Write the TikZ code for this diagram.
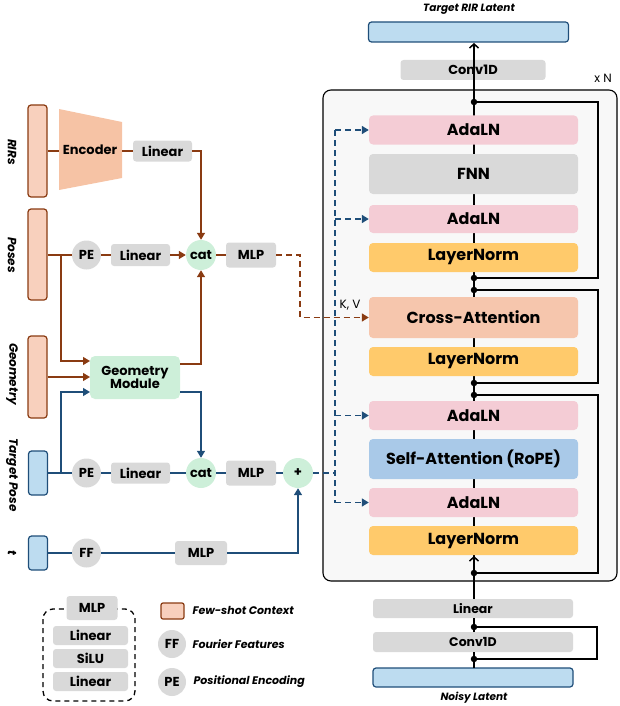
\documentclass[tikz,border=0pt]{standalone}
\usepackage{fontspec}
\setmainfont{Poppins}
\usetikzlibrary{arrows.meta,calc}

\definecolor{brn}{HTML}{8A3B12}
\definecolor{dblue}{HTML}{1F4E79}
\definecolor{peachbar}{HTML}{F8D0BD}
\definecolor{encfill}{HTML}{F6C3A5}
\definecolor{grayc}{HTML}{D9D9D9}
\definecolor{greenc}{HTML}{CDEFD9}
\definecolor{pinkc}{HTML}{F4CCD5}
\definecolor{orangec}{HTML}{FFCA6B}
\definecolor{crossc}{HTML}{F6C6AD}
\definecolor{selfc}{HTML}{A9C9E8}
\definecolor{latc}{HTML}{BDDCF0}
\definecolor{bgc}{HTML}{F8F8F8}

\newcommand{\fsz}[1]{\fontsize{#1}{#1}\selectfont}

\tikzset{
  ctxbar/.style={draw=brn, fill=peachbar, line width=1.2pt, rounded corners=3pt, minimum width=19pt, inner sep=0pt},
  tgtbar/.style={draw=dblue, fill=latc, line width=1.2pt, rounded corners=3pt, minimum width=19pt, inner sep=0pt},
  sidelbl/.style={rotate=-90, font=\bfseries\itshape\fsz{12}},
  gbox/.style={fill=grayc, rounded corners=3pt, inner sep=0pt, font=\bfseries\fsz{13}},
  gcirc/.style={circle, fill=grayc, minimum size=29pt, inner sep=0pt, font=\bfseries\fsz{13}},
  catc/.style={circle, fill=greenc, minimum size=30pt, inner sep=0pt, font=\bfseries\fsz{13}},
  blk/.style={rounded corners=4pt, minimum width=209pt, inner sep=0pt, font=\bfseries\fsz{16}},
  brnline/.style={draw=brn, line width=1.4pt},
  blueline/.style={draw=dblue, line width=1.4pt},
  tri/.style={-{Triangle[length=7pt,width=8pt]}},
  rdash/.style={brnline, line width=1.6pt, dash pattern=on 6pt off 4pt},
  bdash/.style={blueline, line width=1.6pt, dash pattern=on 6pt off 4pt},
  mainline/.style={draw=black, line width=1.5pt},
  chev/.style={-{Straight Barb[length=4pt,width=9pt,line width=1.5pt]}},
  dot/.style={circle, fill=black, inner sep=0pt, minimum size=6.5pt},
  legtxt/.style={anchor=west, font=\bfseries\itshape\fsz{11}},
}

\begin{document}
\begin{tikzpicture}[x=1pt, y=-1pt]
  \useasboundingbox (0,0) rectangle (619,706);

  % ---------------- right column: transformer block ----------------
  \draw[rounded corners=8pt, fill=bgc, line width=1.1pt] (323,90) rectangle (617,581);
  \node[font=\fsz{12}] (xn) at (603,78) {x N};

  \node[font=\bfseries\itshape\fsz{10.5}] (ttl) at (469,9) {Target RIR Latent};
  \node[draw=dblue, fill=latc, line width=1.2pt, rounded corners=3pt, minimum width=200pt, minimum height=20pt, inner sep=0pt] (tgt) at (468.5,32) {};
  \node[gbox, minimum width=145pt, minimum height=20pt] (convT) at (473,70) {Conv1D};

  % residual loops
  \coordinate (r1a) at (474,102); \coordinate (r1b) at (474,278);
  \coordinate (r2a) at (474,290); \coordinate (r2b) at (474,383);
  \coordinate (r3a) at (474,395); \coordinate (r3b) at (474,573);
  \coordinate (r4a) at (474,627); \coordinate (r4b) at (474,659);
  \draw[mainline] (r1a) -- (598,102) -- (598,278) -- (r1b);
  \draw[mainline] (r2a) -- (598,290) -- (598,383) -- (r2b);
  \draw[mainline] (r3a) -- (598,395) -- (598,573) -- (r3b);
  \draw[mainline] (r4a) -- (597,627) -- (597,659) -- (r4b);

  % main line behind blocks
  \draw[mainline] (474,659) -- (474,80);

  \node[blk, fill=pinkc, minimum height=29pt] (ada1) at (473.5,130) {AdaLN};
  \node[blk, fill=grayc, minimum height=40pt] (fnn) at (473.5,174) {FNN};
  \node[blk, fill=pinkc, minimum height=28pt] (ada2) at (473.5,219) {AdaLN};
  \node[blk, fill=orangec, minimum height=29pt] (ln1) at (473.5,257.5) {LayerNorm};
  \node[blk, fill=crossc, minimum height=41pt] (ca) at (473.5,317.5) {Cross-Attention};
  \node[blk, fill=orangec, minimum height=29pt] (ln2) at (473.5,361.5) {LayerNorm};
  \node[blk, fill=pinkc, minimum height=29pt] (ada3) at (473.5,415.5) {AdaLN};
  \node[blk, fill=selfc, minimum height=40pt] (sa) at (473.5,459) {Self-Attention (RoPE)};
  \node[blk, fill=pinkc, minimum height=29pt] (ada4) at (473.5,502.5) {AdaLN};
  \node[blk, fill=orangec, minimum height=29pt] (ln3) at (473.5,540.5) {LayerNorm};

  \node[gbox, minimum width=200pt, minimum height=19pt, font=\bfseries\fsz{12.5}] (lin2) at (473,608.5) {Linear};
  \node[gbox, minimum width=200pt, minimum height=20pt, font=\bfseries\fsz{12.5}] (conv2) at (473,642) {Conv1D};
  \node[draw=dblue, fill=latc, line width=1.2pt, rounded corners=3pt, minimum width=200pt, minimum height=19pt, inner sep=0pt] (noisy) at (473,677.5) {};
  \node[font=\bfseries\itshape\fsz{10.5}] (nlbl) at (474,698) {Noisy Latent};

  \draw[mainline, chev] (474,80) -- (474,43);
  \draw[mainline, chev] (474,598) -- (474,556);
  \draw[mainline] (474,668) -- (474,652);
  \draw[mainline] (474,632) -- (474,618);

  \foreach \c in {r1a,r1b,r2a,r2b,r3a,r3b,r4a,r4b}
    \node[dot] at (\c) {};

  % ---------------- left column: conditioning ----------------
  \node[ctxbar, minimum height=92pt] (rirs) at (37.5,151) {};
  \node[ctxbar, minimum height=91pt] (poses) at (37.5,254.5) {};
  \node[ctxbar, minimum height=82pt] (geob) at (37.5,377) {};
  \node[tgtbar, minimum height=44pt] (tpose) at (38,473) {};
  \node[tgtbar, minimum height=34pt] (tbar) at (38,553) {};

  \node[sidelbl] (lrirs) at (12,152) {RIRs};
  \node[sidelbl] (lposes) at (12,255) {Poses};
  \node[sidelbl] (lgeo) at (12,374) {Geometry};
  \node[sidelbl] (ltp) at (12,475) {Target Pose};
  \node[sidelbl] (lt) at (12,553) {t};

  % encoder
  \fill[encfill] (59,109) -- (122,122) -- (122,178) -- (59,190) -- cycle;
  \node[font=\bfseries\fsz{13}] (enc) at (90,150) {Encoder};
  \coordinate (encL) at (59,151);
  \coordinate (encR) at (122,151);
  \node[gbox, minimum width=59pt, minimum height=21pt] (lin0) at (162.5,151) {Linear};

  % poses row
  \node[gcirc] (pe1) at (86.5,255) {PE};
  \node[gbox, minimum width=59pt, minimum height=22pt] (lin1) at (140.5,255) {Linear};
  \node[catc] (cat1) at (201,255) {cat};
  \node[gbox, minimum width=50pt, minimum height=25pt] (mlp1) at (251,255) {MLP};

  % geometry module
  \node[fill=greenc, rounded corners=5pt, minimum width=90pt, minimum height=43pt, inner sep=0pt, align=center, font=\bfseries\fsz{13}] (geo) at (135,377.5) {Geometry\\[-1pt]Module};

  % target pose row
  \node[gcirc] (pe2) at (86.5,473) {PE};
  \node[gbox, minimum width=59pt, minimum height=21pt] (lin3) at (140.5,473) {Linear};
  \node[catc] (cat2) at (201,473) {cat};
  \node[gbox, minimum width=50pt, minimum height=25pt] (mlp2) at (251,473) {MLP};
  \node[catc] (plus) at (298,473) {+};

  % t row
  \node[gcirc] (ff) at (86.5,553) {FF};
  \node[gbox, minimum width=52pt, minimum height=24pt] (mlp3) at (201,553) {MLP};

  % brown connectors
  \draw[brnline] (rirs.east |- encL) -- (encL);
  \draw[brnline] (encR) -- (lin0.west);
  \draw[brnline, tri] (lin0.east) -| (cat1.north);
  \draw[brnline] (poses.east |- pe1) -- (pe1.west);
  \draw[brnline] (pe1.east) -- (lin1.west);
  \draw[brnline, tri] (lin1.east) -- (cat1.west);
  \draw[brnline] (cat1.east) -- (mlp1.west);
  \coordinate (pb) at (61,255);
  \coordinate (gin1) at (90,361);
  \coordinate (gin2) at (90,377);
  \coordinate (gin3) at (90,392);
  \draw[brnline, tri] (pb) |- (gin1);
  \draw[brnline, tri] (geob.east |- gin2) -- (gin2);
  \coordinate (gout1) at (180,364);
  \coordinate (gout2) at (180,392);
  \draw[brnline, tri] (gout1) -| (cat1.south);
  \draw[rdash, tri] (mlp1.east) -- ++(24,0) |- (ca.west);
  \node[font=\fsz{12}] (kv) at (350,305) {K, V};

  % blue connectors
  \draw[blueline] (tpose.east |- pe2) -- (pe2.west);
  \coordinate (tb) at (61,473);
  \draw[blueline, tri] (tb) |- (gin3);
  \draw[blueline, tri] (gout2) -| (cat2.north);
  \draw[blueline] (pe2.east) -- (lin3.west);
  \draw[blueline] (lin3.east) -- (cat2.west);
  \draw[blueline] (cat2.east) -- (mlp2.west);
  \draw[blueline] (mlp2.east) -- (plus.west);
  \draw[blueline] (tbar.east |- ff) -- (ff.west);
  \draw[blueline] (ff.east) -- (mlp3.west);
  \draw[blueline, tri] (mlp3.east) -| (plus.south);

  % blue dashed adaLN conditioning
  \coordinate (dj) at (335,473);
  \coordinate (d1) at (335,130);
  \coordinate (d2) at (335,219);
  \coordinate (d3) at (335,415.5);
  \coordinate (d4) at (335,502.5);
  \draw[bdash] (plus.east) -- (dj);
  \draw[bdash] (d1) -- (d4);
  \draw[bdash, tri] (d1) -- (ada1.west);
  \draw[bdash, tri] (d2) -- (ada2.west);
  \draw[bdash, tri] (d3) -- (ada3.west);
  \draw[bdash, tri] (d4) -- (ada4.west);

  % ---------------- legend ----------------
  \draw[line width=1.3pt, dash pattern=on 5pt off 4pt, rounded corners=10pt] (43,609) rectangle (135,701);
  \node[gbox, minimum width=51pt, minimum height=24pt] (lmlp) at (92,608) {MLP};
  \node[gbox, minimum width=75pt, minimum height=19pt] (llin1) at (90.5,635.5) {Linear};
  \node[gbox, minimum width=75pt, minimum height=19pt] (lsilu) at (90.5,658.5) {SiLU};
  \node[gbox, minimum width=75pt, minimum height=19pt] (llin2) at (90.5,681.5) {Linear};

  \node[draw=brn, fill=peachbar, line width=1.2pt, rounded corners=2pt, minimum width=23pt, minimum height=16pt, inner sep=0pt] (lctx) at (172.5,611) {};
  \node[legtxt] (tctx) at (189,610) {Few-shot Context};
  \node[gcirc, minimum size=28pt] (lff) at (172,644) {FF};
  \node[legtxt] (tff) at (189,644) {Fourier Features};
  \node[gcirc, minimum size=28pt] (lpe) at (172,682) {PE};
  \node[legtxt] (tpe) at (190,682) {Positional Encoding};
\end{tikzpicture}
\end{document}
